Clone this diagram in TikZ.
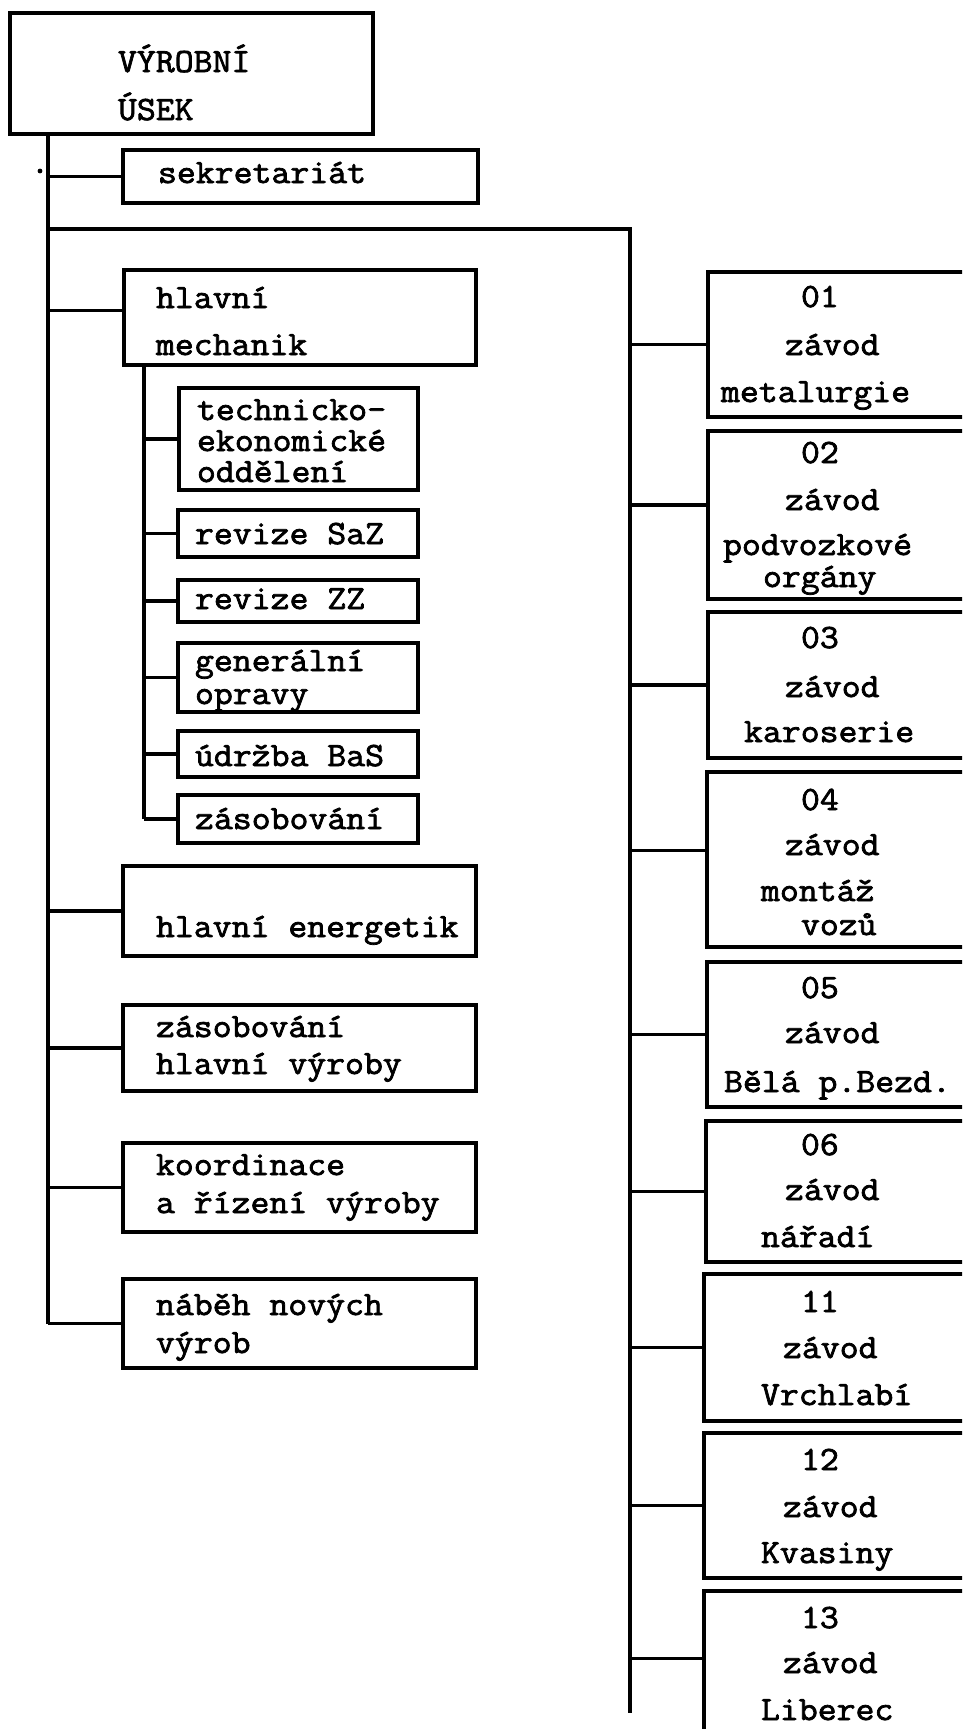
\documentclass[tikz,border=0pt]{standalone}
\usepackage{fontspec}
\newfontfamily\tw{Latin Modern Mono}[FakeStretch=1.08,FakeBold=2.2]
\begin{document}
\begin{tikzpicture}[x=1pt,y=-1pt,
  every node/.style={inner sep=0pt, outer sep=0pt},
  box/.style={draw, line width=3.2pt, rectangle, anchor=north west},
  lbl/.style={anchor=base west, font=\tw\fontsize{34}{31}\selectfont},
  ln/.style={line width=3.2pt}]
\useasboundingbox (0,0) rectangle (962,1729);
\clip (0,0) rectangle (962,1729);
\fill[white] (0,0) rectangle (962,1729);

% ---- left column boxes
\node[box, minimum width=363pt, minimum height=121pt] (top)  at (10,13) {};
\node[box, minimum width=355pt, minimum height=53pt]  (sek)  at (123,150) {};
\node[box, minimum width=352pt, minimum height=95pt]  (mech) at (124,270) {};
\node[box, minimum width=239pt, minimum height=102pt] (tech) at (179,388) {};
\node[box, minimum width=240pt, minimum height=47pt]  (saz)  at (178,510) {};
\node[box, minimum width=240pt, minimum height=42pt]  (zz)   at (178,580) {};
\node[box, minimum width=240pt, minimum height=69pt]  (gen)  at (178,643) {};
\node[box, minimum width=240pt, minimum height=46pt]  (udr)  at (178,731) {};
\node[box, minimum width=240pt, minimum height=48pt]  (zas)  at (178,795) {};
\node[box, minimum width=353pt, minimum height=90pt]  (ener) at (123,866) {};
\node[box, minimum width=353pt, minimum height=86pt]  (zhv)  at (123,1005) {};
\node[box, minimum width=353pt, minimum height=89pt]  (koor) at (123,1143) {};
\node[box, minimum width=353pt, minimum height=89pt]  (nab)  at (123,1279) {};

% ---- right column boxes
\node[box, minimum width=292pt, minimum height=145pt] (z01) at (708,272) {};
\node[box, minimum width=292pt, minimum height=168pt] (z02) at (708,431) {};
\node[box, minimum width=292pt, minimum height=146pt] (z03) at (708,612) {};
\node[box, minimum width=292pt, minimum height=175pt] (z04) at (707,772) {};
\node[box, minimum width=292pt, minimum height=145pt] (z05) at (707,962) {};
\node[box, minimum width=292pt, minimum height=141pt] (z06) at (706,1121) {};
\node[box, minimum width=292pt, minimum height=147pt] (z11) at (704,1274) {};
\node[box, minimum width=292pt, minimum height=145pt] (z12) at (704,1433) {};
\node[box, minimum width=292pt, minimum height=189pt] (z13) at (704,1591) {};

% ---- trunks
\coordinate (T) at (48,134);
\coordinate (R) at (630,229);
\coordinate (S) at (144,365);
\draw[ln] (T) -- (T |- nab.west);
\draw[ln] (T |- R) -- (R) -- ([yshift=-27pt]R |- z13.west);
\draw[ln] (S) -- (S |- zas.west);

% ---- branches
\foreach \b in {sek,ener,zhv,koor,nab}{\draw[ln] (\b.west) -- (\b.west -| T);}
\draw[ln] ([yshift=7pt]mech.west) -- ([yshift=7pt]mech.west -| T);
\foreach \b in {tech,saz,zz,gen,udr,zas}{\draw[ln] (\b.west) -- (\b.west -| S);}
\foreach \b in {z01,z03,z05,z06,z11,z12}{\draw[ln] (\b.west) -- (\b.west -| R);}
\draw[ln] ([yshift=10pt]z02.west) -- ([yshift=10pt]z02.west -| R);
\draw[ln] ([yshift=9pt]z04.west) -- ([yshift=9pt]z04.west -| R);
\draw[ln] ([yshift=27pt]z13.west) -- ([yshift=27pt]z13.west -| R);

\fill (40,171) circle (2.4pt);

% ---- left texts
\node[lbl] (tTop1) at (118,72) {VÝROBNÍ};
\node[lbl] (tTop2) at (118,120) {ÚSEK};
\node[lbl] (tSek) at (158,183) {sekretariát};
\node[lbl] (tMech1) at (156,308) {hlavní};
\node[lbl] (tMech2) at (156,355) {mechanik};
\node[lbl] (tTech1) at (197,420) {technicko-};
\node[lbl] (tTech2) at (197,451) {ekonomické};
\node[lbl] (tTech3) at (197,482) {oddělení};
\node[lbl] (tSaz) at (195,544) {revize SaZ};
\node[lbl] (tZz) at (195,609) {revize ZZ};
\node[lbl] (tGen1) at (195,671) {generální};
\node[lbl] (tGen2) at (195,704) {opravy};
\node[lbl] (tUdr) at (195,766) {údržba BaS};
\node[lbl] (tZas) at (195,829) {zásobování};
\node[lbl] (tEner) at (156,937) {hlavní energetik};
\node[lbl] (tZhv1) at (156,1037) {zásobování};
\node[lbl] (tZhv2) at (156,1074) {hlavní výroby};
\node[lbl] (tKoor1) at (156,1175) {koordinace};
\node[lbl] (tKoor2) at (156,1213) {a řízení výroby};
\node[lbl] (tNab1) at (156,1315) {náběh nových};
\node[lbl] (tNab2) at (156,1353) {výrob};

% ---- right texts
\node[lbl] (r01a) at (801,307) {01};
\node[lbl] (r01b) at (785,355) {závod};
\node[lbl] (r01c) at (721,402) {metalurgie};
\node[lbl] (r02a) at (801,463) {02};
\node[lbl] (r02b) at (785,510) {závod};
\node[lbl] (r02c) at (723,555) {podvozkové};
\node[lbl] (r02d) at (763,587) {orgány};
\node[lbl] (r03a) at (801,648) {03};
\node[lbl] (r03b) at (785,697) {závod};
\node[lbl] (r03c) at (744,742) {karoserie};
\node[lbl] (r04a) at (801,810) {04};
\node[lbl] (r04b) at (785,855) {závod};
\node[lbl] (r04c) at (761,901) {montáž};
\node[lbl] (r04d) at (801,935) {vozů};
\node[lbl] (r05a) at (801,998) {05};
\node[lbl] (r05b) at (785,1043) {závod};
\node[lbl] (r05c) at (724,1092) {Bělá p.Bezd.};
\node[lbl] (r06a) at (801,1155) {06};
\node[lbl] (r06b) at (785,1200) {závod};
\node[lbl] (r06c) at (761,1247) {nářadí};
\node[lbl] (r11a) at (801,1312) {11};
\node[lbl] (r11b) at (783,1358) {závod};
\node[lbl] (r11c) at (761,1405) {Vrchlabí};
\node[lbl] (r12a) at (801,1470) {12};
\node[lbl] (r12b) at (783,1517) {závod};
\node[lbl] (r12c) at (761,1563) {Kvasiny};
\node[lbl] (r13a) at (801,1628) {13};
\node[lbl] (r13b) at (783,1673) {závod};
\node[lbl] (r13c) at (761,1720) {Liberec};
\end{tikzpicture}
\end{document}
